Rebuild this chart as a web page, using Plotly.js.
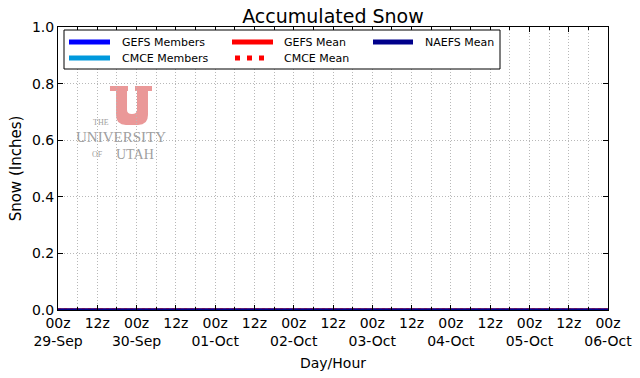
<!DOCTYPE html>
<html>
<head>
<meta charset="utf-8">
<script src="https://cdn.plot.ly/plotly-3.0.1.min.js"></script>
<style>html,body{margin:0;padding:0;background:#fff}#chart{width:640px;height:378px}</style>
</head>
<body>
<div id="chart"></div>
<script>
// ---- data (hours since 00z 29-Sep) ----
var hours = [0,6,12,18,24,30,36,42,48,54,60,66,72,78,84,90,96,102,108,114,120,126,132,138,144,150,156,162,168];
var gefsMembers = [0,0,0,0,0,0,0,0,0,0,0,0,0,0,0,0,0,0,0,0,0,0,0,0,0,0,0,0,0];
var cmceMembers = [0,0,0,0,0,0,0,0,0,0,0,0,0,0,0,0,0,0,0,0,0,0,0,0,0,0,0,0,0];
var gefsMean    = [0,0,0,0,0,0,0,0,0,0,0,0,0,0,0,0,0,0,0,0,0,0,0,0,0,0,0,0,0];
var cmceMean    = [0,0,0,0,0,0,0,0,0,0,0,0,0,0,0,0,0,0,0,0,0,0,0,0,0,0,0,0,0];
var naefsMean   = [0,0,0,0,0,0,0,0,0,0,0,0,0,0,0,0,0,0,0,0,0,0,0,0,0,0,0,0,0];
var tickHours = [0,12,24,36,48,60,72,84,96,108,120,132,144,156,168];
var tickLabels = ['00z<br>29-Sep','12z','00z<br>30-Sep','12z','00z<br>01-Oct','12z','00z<br>02-Oct','12z',
                  '00z<br>03-Oct','12z','00z<br>04-Oct','12z','00z<br>05-Oct','12z','00z<br>06-Oct'];
var seriesNames = ['GEFS Members','CMCE Members','GEFS Mean','CMCE Mean','NAEFS Mean'];
var seriesColors = ['#0000ff','#0099dd','#ff0000','#ff0000','#00008b'];

var FONT = 'DejaVu Sans, sans-serif';
var seriesData = [gefsMembers, cmceMembers, gefsMean, cmceMean, naefsMean];
var traces = seriesData.map(function(y,i){
  return {x: hours, y: y, name: seriesNames[i], type: 'scatter', mode: 'lines', showlegend: false,
          line: {color: seriesColors[i], width: 3, dash: i===3 ? 'dot' : 'solid'}};
});

// plot area in pixels: x 58..608, y 27..310
var L=58, R=608, T=27, B=310;
function px(x){return (x-L)/(R-L);}
function py(y){return (B-y)/(B-T);}
function pathPx(pts){
  return pts.replace(/(-?\d+\.?\d*),(-?\d+\.?\d*)/g, function(m,a,b){return px(+a).toFixed(4)+','+py(+b).toFixed(4);});
}
var uPath = pathPx('M110,86 L128,86 L128,91 L127,91 L127,110 Q127,114 132,114 Q137,114 137,110 L137,91 L135,91 L135,86 L152,86 L152,91 L148,91 L148,115 Q148,125 138,125 L126,125 Q116,125 116,115 L116,91 L110,91 Z');

var shapes = [
  {type: 'path', xref: 'paper', yref: 'paper', path: uPath, fillcolor: 'rgb(234,152,152)', line: {width: 0}, layer: 'below'},
  // legend box
  {type: 'rect', xref: 'paper', yref: 'paper', x0: px(64), x1: px(500), y0: py(30), y1: py(69),
   fillcolor: '#fff', line: {color: '#000', width: 1}, layer: 'above'}
];
var annotations = [];
// legend entries: [series index, line x0, line x1, row y, text x]
var legendEntries = [[0,69,110,42,120],[1,69,110,58,120],[2,232,273,42,282],[3,234,264,58,282],[4,373,413,42,423]];
legendEntries.forEach(function(e){
  var i=e[0];
  if (i===3) {
    [235,247,259].forEach(function(sx){
      shapes.push({type:'rect', xref:'paper', yref:'paper', x0:px(sx), x1:px(sx+5), y0:py(e[3]-2.5), y1:py(e[3]+2.5),
                   fillcolor: seriesColors[i], line:{width:0}, layer:'above'});
    });
  } else {
    shapes.push({type:'line', xref:'paper', yref:'paper', x0:px(e[1]), x1:px(e[2]), y0:py(e[3]), y1:py(e[3]),
                 line:{color: seriesColors[i], width: 5}, layer:'above'});
  }
  annotations.push({text: seriesNames[i], xref:'paper', yref:'paper', x: px(e[4]), y: py(e[3]),
                    xanchor:'left', yanchor:'middle', showarrow:false,
                    font:{family: FONT, size: 11, color:'#000'}});
});
var logoFont = 'Liberation Serif, serif', logoColor = '#a0a0a0';
[['THE',101,122,8],['UNIVERSITY',121,137,15],['OF',97,154,8],['UTAH',135,154,14]].forEach(function(t){
  annotations.push({text: t[0], xref:'paper', yref:'paper', x: px(t[1]), y: py(t[2]), xanchor:'center', yanchor:'middle',
                    showarrow:false, font:{family: logoFont, size: t[3], color: logoColor}});
});

var grid = '#b8b8b8', gdash = '1px,2px';
var layout = {
  width: 640, height: 378,
  margin: {l: L, r: 640-R, t: T, b: 378-B},
  paper_bgcolor: '#fff', plot_bgcolor: '#fff',
  font: {family: FONT, size: 14, color: '#000'},
  title: {text: 'Accumulated Snow', font: {family: FONT, size: 19, color: '#000'},
          x: 0.5, xref: 'paper', y: 1, yref: 'paper', yanchor: 'bottom', pad: {b: 4}},
  showlegend: false,
  xaxis: {range: [0, 168], tickmode: 'array', tickvals: tickHours, ticktext: tickLabels,
          ticks: 'inside', ticklen: 5, tickcolor: '#000', mirror: 'allticks',
          showline: true, linecolor: '#000', linewidth: 1,
          showgrid: true, gridcolor: grid, griddash: gdash, gridwidth: 1,
          minor: {dtick: 6, tick0: 0, ticks: 'inside', ticklen: 3, tickcolor: '#000', showgrid: true, gridcolor: grid, griddash: gdash},
          tickfont: {family: FONT, size: 14}, zeroline: false,
          title: {text: 'Day/Hour', font: {family: FONT, size: 14}, standoff: 10}},
  yaxis: {range: [0, 1], dtick: 0.2, tick0: 0, tickformat: '.1f',
          ticks: 'inside', ticklen: 5, tickcolor: '#000', mirror: 'allticks',
          showline: true, linecolor: '#000', linewidth: 1,
          showgrid: true, gridcolor: grid, griddash: gdash, gridwidth: 1,
          tickfont: {family: FONT, size: 14}, zeroline: false,
          title: {text: 'Snow (Inches)', font: {family: FONT, size: 15}, standoff: 6}},
  shapes: shapes,
  annotations: annotations
};
Plotly.newPlot('chart', traces, layout, {staticPlot: true, displayModeBar: false});
</script>
</body>
</html>
